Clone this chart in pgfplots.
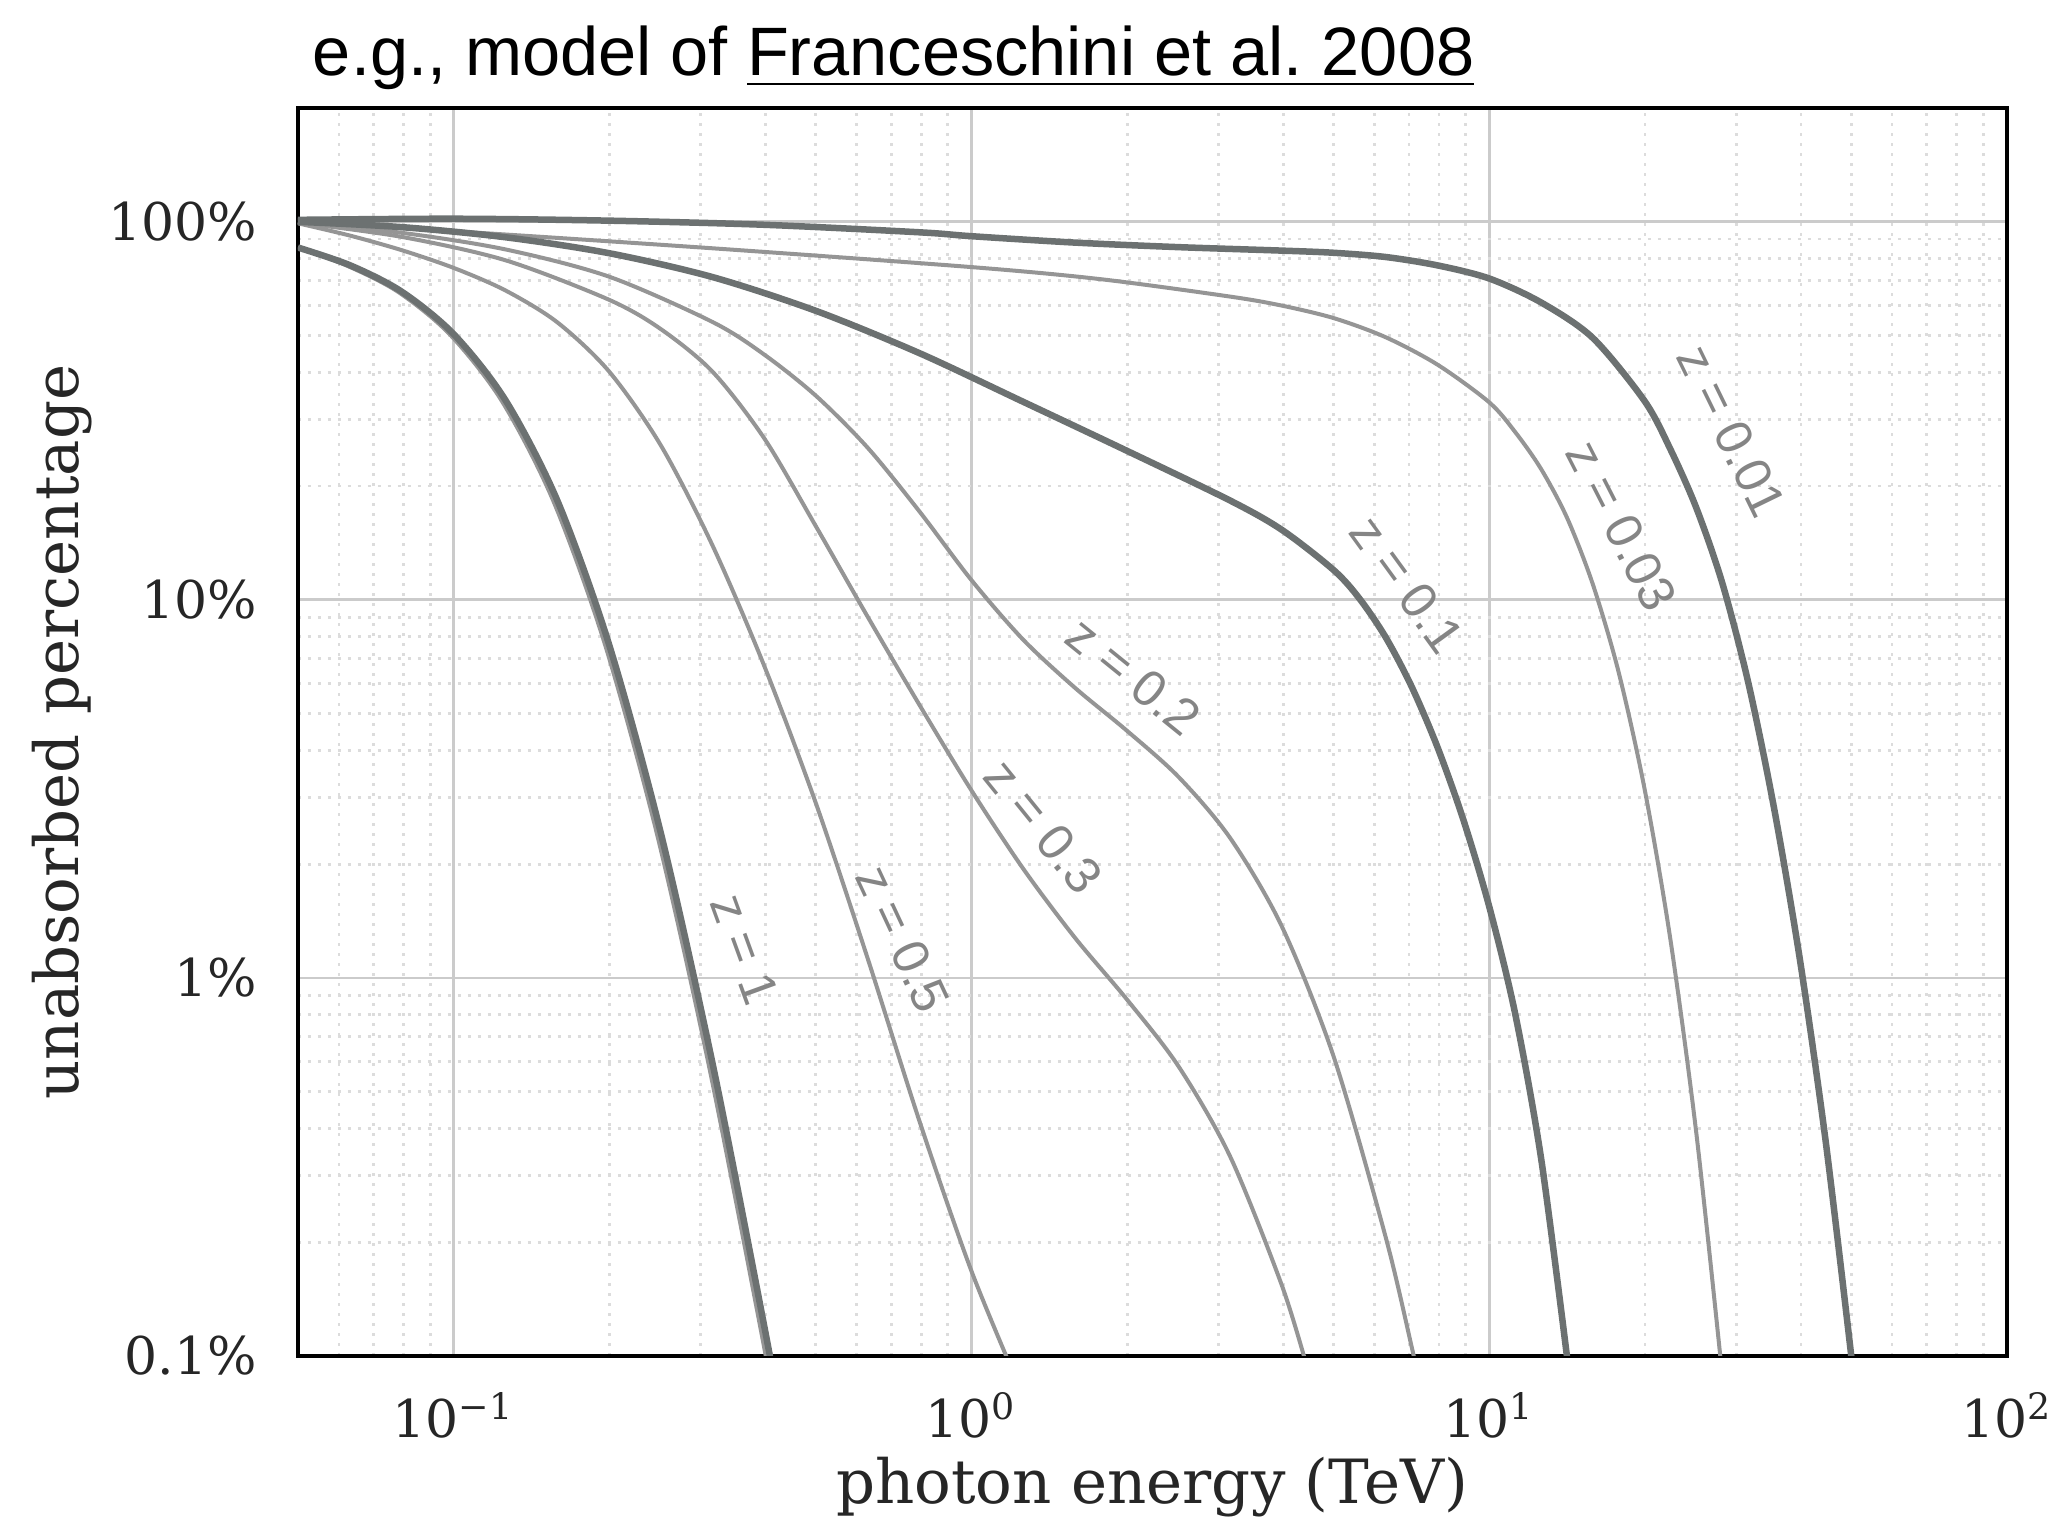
\documentclass[border=0pt]{standalone}
\usepackage{fontspec}
\setmainfont{DejaVu Serif}
\newfontfamily\titlefont{Liberation Sans}
\newfontfamily\labfont{Liberation Sans}
\usepackage{pgfplots}
\pgfplotsset{compat=1.18}
\definecolor{lightc}{HTML}{959595}
\definecolor{darkc}{HTML}{6C7171}
\definecolor{tickc}{HTML}{262626}
\definecolor{labc}{HTML}{858585}
\definecolor{majg}{HTML}{CBCBCB}
\definecolor{ming}{HTML}{DCDCDC}
\begin{document}
\begin{tikzpicture}
\begin{axis}[
  scale only axis, width=341.8pt, height=249.6pt,
  xmode=log, ymode=log,
  xmin=0.05, xmax=100, ymin=0.1, ymax=200,
  xtick={0.1,1,10,100},
  xticklabels={10\textsuperscript{−1},10\textsuperscript{0},10\textsuperscript{1},10\textsuperscript{2}},
  ytick={0.1,1,10,100},
  yticklabels={0.1\%,1\%,10\%,100\%},
  minor xtick={0.06,0.07,0.08,0.09,0.2,0.3,0.4,0.5,0.6,0.7,0.8,0.9,2,3,4,5,6,7,8,9,20,30,40,50,60,70,80,90},
  minor ytick={0.2,0.3,0.4,0.5,0.6,0.7,0.8,0.9,2,3,4,5,6,7,8,9,20,30,40,50,60,70,80,90,200},
  grid=both,
  major grid style={majg, line width=0.55pt},
  minor grid style={ming, line width=0.55pt, dash pattern=on 0.6pt off 1.4pt},
  major tick length=0pt, minor tick length=0pt,
  axis line style={black, line width=0.9pt},
  tick label style={font=\fontsize{10.4}{12}\selectfont, text=tickc},
  xticklabel style={anchor=base, inner sep=0pt, yshift=-16.4pt},
  yticklabel style={anchor=east, inner sep=0pt, xshift=-8pt},
  every axis plot/.append style={smooth, line join=round},
]
% light curves, one for each redshift
% z = 0.01
\addplot[lightc, line width=0.8pt] coordinates {
(0.05,101.2) (0.1,101.9) (0.1995,100.7) (0.3981,98.2) (0.7943,93.8) (1.0,91.6) (1.585,88.1) (2.512,85.7) (3.981,83.9) (5.012,82.8) (6.310,80.7) (7.943,76.7) (10.0,70.8) (12.59,61.2) (15.85,49.3) (19.95,33.6) (22.39,25.0) (25.12,17.5) (28.18,11.1) (31.62,6.07) (35.48,2.82) (39.81,1.12) (44.67,0.368) (50.12,0.098)};
% z = 0.03
\addplot[lightc, line width=0.8pt] coordinates {
(0.05,99.3) (0.1,94.4) (0.3162,85.1) (1.0,75.9) (1.778,70.5) (3.162,63.4) (3.981,60.0) (5.012,55.6) (6.310,49.5) (7.943,41.9) (10.0,33.3) (11.22,27.8) (12.59,22.2) (14.13,16.5) (15.85,11.0) (17.78,6.44) (19.95,3.17) (22.39,1.26) (25.12,0.388) (28.18,0.0894)};
% z = 0.1
\addplot[lightc, line width=0.8pt] coordinates {
(0.05,100) (0.0794,96.8) (0.1259,91.0) (0.1995,82.6) (0.3162,71.4) (0.5012,58.1) (0.7943,44.9) (1.259,33.4) (1.995,24.8) (3.162,18.3) (3.981,15.3) (5.012,11.97) (5.623,10.05) (6.310,7.96) (7.079,5.90) (7.943,4.08) (8.913,2.62) (10.0,1.543) (11.22,0.805) (12.59,0.334) (14.13,0.0997)};
% z = 0.2
\addplot[lightc, line width=0.8pt] coordinates {
(0.05,99.5) (0.0794,93.5) (0.1259,84.5) (0.1995,71.6) (0.3162,54.3) (0.3981,44.5) (0.5012,34.6) (0.6310,25.2) (0.7943,17.1) (1.0,11.27) (1.259,7.84) (1.585,5.85) (1.995,4.51) (2.512,3.40) (3.162,2.34) (3.981,1.363) (5.012,0.616) (6.310,0.206) (7.079,0.106) (7.244,0.091)};
% z = 0.3
\addplot[lightc, line width=0.8pt] coordinates {
(0.05,99.5) (0.0794,91.2) (0.1259,79.1) (0.1995,62.2) (0.2512,52.0) (0.3162,40.1) (0.3981,26.7) (0.5012,15.6) (0.6310,8.99) (0.7943,5.26) (1.0,3.13) (1.259,1.943) (1.585,1.276) (1.995,0.878) (2.512,0.583) (3.162,0.336) (3.981,0.153) (4.467,0.0914)};
% z = 0.5
\addplot[lightc, line width=0.8pt] coordinates {
(0.05,99.1) (0.0631,91.9) (0.0794,84.1) (0.1,75.5) (0.1259,65.8) (0.1585,54.2) (0.1995,40.2) (0.2512,25.6) (0.3162,13.9) (0.3981,6.67) (0.5012,2.88) (0.6310,1.119) (0.7943,0.416) (1.0,0.1675) (1.259,0.0783)};
% z = 1
\addplot[lightc, line width=0.8pt] coordinates {
(0.05,85.5) (0.0620,76.7) (0.0780,65.3) (0.0982,50.4) (0.1236,33.7) (0.1556,18.3) (0.1959,7.62) (0.2467,2.41) (0.3105,0.592) (0.3909,0.1192) (0.4386,0.0506)};
% dark curves (z = 0.01, 0.1, 1)
\addplot[darkc, line width=1.3pt] coordinates {
(0.05,101.2) (0.1,101.9) (0.1995,100.7) (0.3981,98.2) (0.7943,93.8) (1.0,91.6) (1.585,88.1) (2.512,85.7) (3.981,83.9) (5.012,82.8) (6.310,80.7) (7.943,76.7) (10.0,70.8) (12.59,61.2) (15.85,49.3) (19.95,33.6) (22.39,25.0) (25.12,17.5) (28.18,11.1) (31.62,6.07) (35.48,2.82) (39.81,1.12) (44.67,0.368) (50.12,0.098)};
\addplot[darkc, line width=1.3pt] coordinates {
(0.05,100) (0.0794,96.8) (0.1259,91.0) (0.1995,82.6) (0.3162,71.4) (0.5012,58.1) (0.7943,44.9) (1.259,33.4) (1.995,24.8) (3.162,18.3) (3.981,15.3) (5.012,11.97) (5.623,10.05) (6.310,7.96) (7.079,5.90) (7.943,4.08) (8.913,2.62) (10.0,1.543) (11.22,0.805) (12.59,0.334) (14.13,0.0997)};
\addplot[darkc, line width=1.3pt] coordinates {
(0.05,85.5) (0.0631,76.7) (0.0794,65.3) (0.1,50.4) (0.1259,33.7) (0.1585,18.3) (0.1995,7.62) (0.2512,2.41) (0.3162,0.592) (0.3981,0.1192) (0.4467,0.0506)};
% curve labels
\node[font=\labfont\fontsize{10.2}{12}\selectfont, text=labc, rotate=-64] at (axis cs:29.4,27.9) {z = 0.01};
\node[font=\labfont\fontsize{10.2}{12}\selectfont, text=labc, rotate=-63] at (axis cs:18.0,15.7) {z = 0.03};
\node[font=\labfont\fontsize{10.2}{12}\selectfont, text=labc, rotate=-54] at (axis cs:6.95,11.0) {z = 0.1};
\node[font=\labfont\fontsize{10.2}{12}\selectfont, text=labc, rotate=-39] at (axis cs:2.06,6.28) {z = 0.2};
\node[font=\labfont\fontsize{10.2}{12}\selectfont, text=labc, rotate=-51] at (axis cs:1.377,2.52) {z = 0.3};
\node[font=\labfont\fontsize{10.2}{12}\selectfont, text=labc, rotate=-65] at (axis cs:0.736,1.27) {z = 0.5};
\node[font=\labfont\fontsize{10.2}{12}\selectfont, text=labc, rotate=-70] at (axis cs:0.365,1.19) {z = 1};
\end{axis}
\node[anchor=base west, inner sep=0pt, font=\titlefont\fontsize{13.7}{16}\selectfont] at (2.8pt,256pt) {e.g., model of \underline{Franceschini et al.\ 2008}};
\node[rotate=90, inner sep=0pt, font=\fontsize{12.2}{14}\selectfont, text=tickc] at (-47.2pt,124.8pt) {unabsorbed percentage};
\node[anchor=base, inner sep=0pt, font=\fontsize{12.2}{14}\selectfont, text=tickc] at (170.9pt,-29.5pt) {photon energy (TeV)};
\pgfresetboundingbox
\path (-59.6pt,-33.4pt) rectangle (353.4pt,271.2pt);
\end{tikzpicture}
\end{document}
